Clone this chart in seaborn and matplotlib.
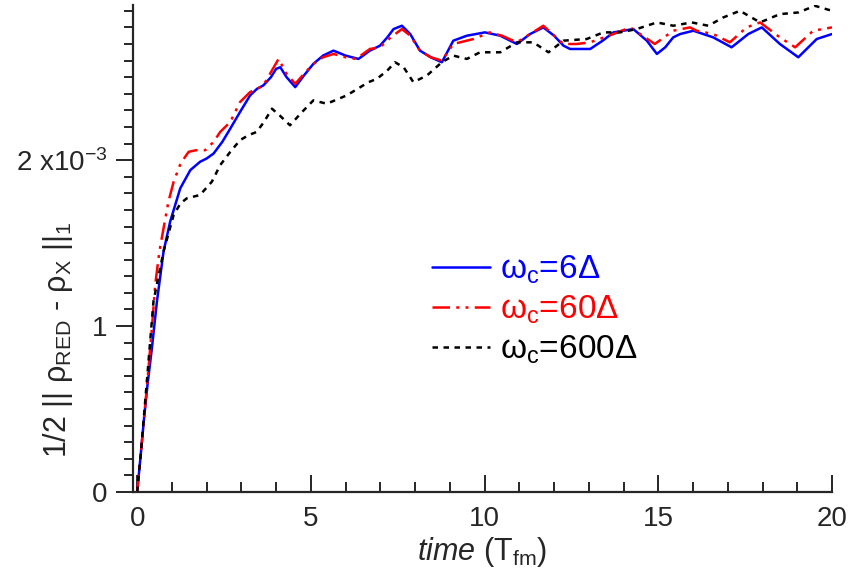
import numpy as np
import pandas as pd
import matplotlib
matplotlib.use("Agg")
import matplotlib.pyplot as plt
import seaborn as sns
from matplotlib.ticker import MultipleLocator, FixedLocator

# ---- data (values in units of 1e-3) ----
t_blue = [0, 0.1, 0.2, 0.3, 0.42, 0.57, 0.76, 0.95, 1.24, 1.53, 1.81, 2.0, 2.2, 2.45, 2.68,
          2.96, 3.25, 3.45, 3.63, 3.85, 4.0, 4.12, 4.3, 4.55, 4.8, 5.07, 5.35, 5.65, 6.0,
          6.37, 6.7, 6.99, 7.2, 7.38, 7.62, 7.86, 8.14, 8.45, 8.77, 9.1, 9.49, 10.01,
          10.45, 10.93, 11.31, 11.69, 12.0, 12.27, 12.46, 13.04, 13.4, 13.71, 14.28,
          14.67, 14.96, 15.2, 15.43, 15.63, 16.01, 16.58, 17.11, 17.59, 17.98, 18.5,
          19.03, 19.56, 20.0]
v_blue = [0, 0.22, 0.45, 0.65, 0.86, 1.15, 1.45, 1.63, 1.83, 1.94, 1.99, 2.01, 2.04, 2.11, 2.19,
          2.29, 2.39, 2.43, 2.45, 2.50, 2.55, 2.56, 2.50, 2.44, 2.51, 2.58, 2.63, 2.66, 2.63,
          2.61, 2.66, 2.69, 2.74, 2.79, 2.81, 2.76, 2.66, 2.62, 2.59, 2.72, 2.75, 2.77,
          2.75, 2.70, 2.76, 2.80, 2.75, 2.69, 2.67, 2.67, 2.72, 2.77, 2.79,
          2.72, 2.64, 2.68, 2.74, 2.76, 2.78, 2.74, 2.68, 2.76, 2.80, 2.70,
          2.62, 2.73, 2.76]

t_red = [0, 0.1, 0.2, 0.3, 0.42, 0.52, 0.64, 0.76, 0.9, 1.05, 1.25, 1.48, 1.7, 1.96, 2.2,
         2.39, 2.68, 2.96, 3.25, 3.45, 3.63, 3.85, 4.07, 4.3, 4.55, 4.8, 5.07, 5.35, 5.65,
         6.0, 6.3, 6.7, 6.99, 7.3, 7.62, 7.86, 8.14, 8.45, 8.77, 9.1, 9.68, 10.15, 10.5,
         10.93, 11.31, 11.69, 12.27, 12.65, 13.04, 13.71, 14.19, 14.62, 14.9, 15.43,
         15.91, 16.1, 16.58, 17.06, 17.54, 17.93, 18.5, 18.94, 19.46, 20.0]
v_red = [0, 0.22, 0.45, 0.68, 0.98, 1.25, 1.45, 1.59, 1.75, 1.87, 1.98, 2.05, 2.06, 2.06, 2.11,
         2.17, 2.23, 2.35, 2.41, 2.43, 2.45, 2.53, 2.61, 2.52, 2.46, 2.52, 2.58, 2.62, 2.64,
         2.62, 2.61, 2.67, 2.68, 2.74, 2.79, 2.75, 2.66, 2.62, 2.60, 2.70, 2.73, 2.77, 2.75,
         2.71, 2.76, 2.81, 2.70, 2.70, 2.71, 2.76, 2.80, 2.74, 2.70, 2.78,
         2.80, 2.78, 2.76, 2.71, 2.80, 2.83, 2.74, 2.68, 2.78, 2.80]

t_black = [0, 0.1, 0.2, 0.3, 0.47, 0.76, 1.05, 1.25, 1.43, 1.81, 2.15, 2.39, 2.68, 2.96, 3.2,
           3.44, 3.65, 3.88, 4.1, 4.4, 4.7, 5.07, 5.46, 6.03, 6.66, 6.9, 7.2, 7.42, 7.67,
           7.95, 8.34, 8.77, 9.1, 9.49, 9.87, 10.45, 10.93, 11.4, 11.84, 12.27, 12.94,
           13.42, 13.9, 14.38, 14.96, 15.43, 15.96, 16.44, 16.87, 17.35, 17.93, 18.5,
           19.03, 19.51, 20.0]
v_black = [0, 0.22, 0.47, 0.72, 1.15, 1.45, 1.67, 1.74, 1.77, 1.79, 1.87, 1.97, 2.05, 2.12, 2.15,
           2.17, 2.23, 2.31, 2.27, 2.21, 2.28, 2.36, 2.34, 2.39, 2.47, 2.49, 2.54, 2.59, 2.56,
           2.47, 2.51, 2.59, 2.63, 2.61, 2.65, 2.65, 2.71, 2.71, 2.65, 2.72, 2.73,
           2.77, 2.77, 2.79, 2.83, 2.81, 2.83, 2.81, 2.86, 2.90, 2.83, 2.88,
           2.89, 2.93, 2.90]

labels = ["ω$_{\\rm c}$=6Δ", "ω$_{\\rm c}$=60Δ", "ω$_{\\rm c}$=600Δ"]
colors = ["#0000ff", "#ff0000", "#000000"]
y_ticks = [0, 1, 2]
y_ticklabels = ["0", "1", "2 x10$^{-3}$"]
x_ticks = [0, 5, 10, 15, 20]

# ---- style ----
sns.set_theme(style="ticks")
plt.rcParams["font.family"] = ["Liberation Sans", "DejaVu Sans"]
plt.rcParams["mathtext.fontset"] = "custom"
plt.rcParams["mathtext.rm"] = "Liberation Sans"
plt.rcParams["mathtext.it"] = "Liberation Sans:italic"
plt.rcParams["mathtext.bf"] = "Liberation Sans:bold"

fig = plt.figure(figsize=(8.5, 5.82), dpi=100)
ax = fig.add_axes([133 / 850, 90 / 582, (832 - 133) / 850, (492 - 5) / 582])

series = [(t_blue, v_blue), (t_red, v_red), (t_black, v_black)]
dash_styles = [None, (7, 2.5, 1.2, 2.5, 1.2, 2.5), (2.2, 2.2)]
for (tt, vv), lab, col, ds in zip(series, labels, colors, dash_styles):
    df = pd.DataFrame({"t": tt, "v": vv})
    sns.lineplot(data=df, x="t", y="v", ax=ax, color=col, label=lab,
                 linewidth=1.8, sort=False, estimator=None)
    line = ax.lines[-1]
    line.set_solid_joinstyle("round")
    line.set_dash_joinstyle("round")
    if ds is not None:
        line.set_dashes(ds)

ax.set_xlim(-0.12, 20)
ax.set_ylim(0, 2.935)
ax.spines["top"].set_visible(False)
ax.spines["right"].set_visible(False)
for s in ["left", "bottom"]:
    ax.spines[s].set_linewidth(1.6)

ax.xaxis.set_major_locator(FixedLocator(x_ticks))
ax.xaxis.set_minor_locator(MultipleLocator(1))
ax.yaxis.set_major_locator(FixedLocator(y_ticks))
ax.yaxis.set_minor_locator(MultipleLocator(0.1))
ax.set_yticklabels(y_ticklabels)

ax.tick_params(axis="x", which="major", direction="in", length=12, width=1.4,
               labelsize=20, pad=10)
ax.tick_params(axis="x", which="minor", direction="in", length=7, width=1.4)
ax.tick_params(axis="y", which="major", direction="out", length=12.2, width=1.4,
               labelsize=20, pad=6.5)
ax.tick_params(axis="y", which="minor", direction="out", length=6.5, width=1.4)

ax.set_xlabel("$\\mathit{time}$ (T$_{\\rm fm}$)", fontsize=22, labelpad=2)
ax.set_ylabel("1/2 || ρ$_{\\rm RED}$ - ρ$_{\\rm X}$ ||$_1$", fontsize=22)
ax.yaxis.set_label_coords((58 - 133) / 699, (492 - 340) / 487)
ax.yaxis.label.set_va("center")

leg = ax.legend(loc="upper left", bbox_to_anchor=(432 / 850, (582 - 254) / 582),
                bbox_transform=fig.transFigure, frameon=False, fontsize=24,
                handlelength=1.75, handletextpad=0.3, labelspacing=0.22,
                borderpad=0, borderaxespad=0, labelcolor="linecolor")

fig.savefig("out.png", dpi=100)
